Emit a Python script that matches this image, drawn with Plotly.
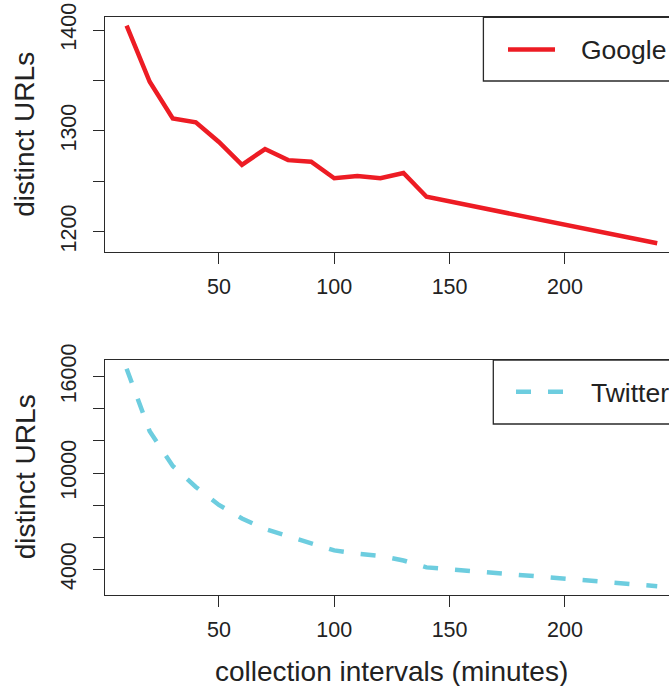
import plotly.graph_objects as go

# ---- data ----
intervals = [10, 20, 30, 40, 50, 60, 70, 80, 90, 100, 110, 120, 130, 140, 240]
google_urls = [1404.3, 1348.7, 1312.4, 1308.5, 1289.0, 1266.4, 1282.0, 1271.0,
               1269.4, 1253.0, 1255.2, 1253.0, 1258.2, 1234.7, 1188.5]
twitter_urls = [16500, 12600, 10440, 9130, 8010, 7170, 6510, 6050,
                5640, 5180, 4970, 4830, 4550, 4120, 2950]

google_ticks = [1200, 1250, 1300, 1350, 1400]
google_ticktext = ["1200", "", "1300", "", "1400"]
twitter_ticks = [4000, 6000, 8000, 10000, 12000, 14000, 16000]
twitter_ticktext = ["4000", "", "", "10000", "", "", "16000"]
x_ticks = [50, 100, 150, 200]

W, H = 669, 686
FONT = "Liberation Sans, Arial, Helvetica, sans-serif"
RED = "#ED1C24"
CYAN = "#6DCDDF"
AX = "#2a2a2a"


def px(x):
    return x / W


def py(y):
    return 1 - y / H


fig = go.Figure()
fig.add_trace(go.Scatter(x=intervals, y=google_urls, mode="lines", name="Google",
                         line=dict(color=RED, width=4.5), xaxis="x", yaxis="y",
                         showlegend=False))
fig.add_trace(go.Scatter(x=intervals, y=twitter_urls, mode="lines", name="Twitter",
                         line=dict(color=CYAN, width=4.5, dash="15px,17px"),
                         xaxis="x2", yaxis="y2", showlegend=False))

xdom = [px(105.4), 1.0]
common_x = dict(range=[0.8, 245.1], domain=xdom, tickvals=x_ticks,
                ticks="outside", ticklen=11, tickcolor=AX, tickwidth=1.2,
                showline=True, linecolor=AX, linewidth=1.3, mirror=True,
                showgrid=False, zeroline=False, automargin=False,
                ticklabelstandoff=4,
                tickfont=dict(family=FONT, size=21.5, color="#222"))
common_y = dict(ticks="outside", ticklen=11, tickcolor=AX, tickwidth=1.2,
                showline=True, linecolor=AX, linewidth=1.3, mirror=False,
                showgrid=False, zeroline=False, tickangle=-90, automargin=False,
                ticklabelstandoff=9,
                tickfont=dict(family=FONT, size=21.5, color="#222"))

fig.update_layout(
    template="none",
    width=W, height=H, autosize=False,
    margin=dict(l=0, r=0, t=0, b=0, pad=0),
    paper_bgcolor="white", plot_bgcolor="white",
    showlegend=False,
    xaxis=dict(anchor="y", **common_x),
    yaxis=dict(anchor="x", domain=[py(252.3), py(17.3)], range=[1179.6, 1412.6],
               tickvals=google_ticks, ticktext=google_ticktext, **common_y),
    xaxis2=dict(anchor="y2", **common_x),
    yaxis2=dict(anchor="x2", domain=[py(594.7), py(360)], range=[2418, 17040],
                tickvals=twitter_ticks, ticktext=twitter_ticktext, **common_y),
)

shapes = []
# legend boxes (extend past right edge, as in the reference)
shapes.append(dict(type="rect", xref="paper", yref="paper",
                   x0=px(483.4), x1=px(720), y0=py(81), y1=py(17.3),
                   line=dict(color=AX, width=1.3), fillcolor="white", layer="above"))
shapes.append(dict(type="line", xref="paper", yref="paper",
                   x0=px(508), x1=px(555), y0=py(49.5), y1=py(49.5),
                   line=dict(color=RED, width=4.5)))
shapes.append(dict(type="rect", xref="paper", yref="paper",
                   x0=px(493.3), x1=px(720), y0=py(424), y1=py(360),
                   line=dict(color=AX, width=1.3), fillcolor="white", layer="above"))
shapes.append(dict(type="line", xref="paper", yref="paper",
                   x0=px(516), x1=px(565), y0=py(391.7), y1=py(391.7),
                   line=dict(color=CYAN, width=4.5, dash="15px,17px")))
fig.update_layout(shapes=shapes)

ann = []
ann.append(dict(text="Google", xref="paper", yref="paper", x=px(579), y=py(50),
                xanchor="left", yanchor="middle", showarrow=False,
                font=dict(family=FONT, size=26.5, color="#222")))
ann.append(dict(text="Twitter", xref="paper", yref="paper", x=px(589), y=py(393),
                xanchor="left", yanchor="middle", showarrow=False,
                font=dict(family=FONT, size=26.5, color="#222")))
ann.append(dict(text="distinct URLs", xref="paper", yref="paper", x=px(25), y=py(134.8),
                xanchor="center", yanchor="middle", textangle=-90, showarrow=False,
                font=dict(family=FONT, size=28, color="#222")))
ann.append(dict(text="distinct URLs", xref="paper", yref="paper", x=px(25), y=py(477.3),
                xanchor="center", yanchor="middle", textangle=-90, showarrow=False,
                font=dict(family=FONT, size=28, color="#222")))
ann.append(dict(text="collection intervals (minutes)", xref="paper", yref="paper",
                x=px(391.5), y=py(671), xanchor="center", yanchor="middle",
                showarrow=False, font=dict(family=FONT, size=28, color="#222")))
fig.update_layout(annotations=ann)

fig.write_html("out.html")
